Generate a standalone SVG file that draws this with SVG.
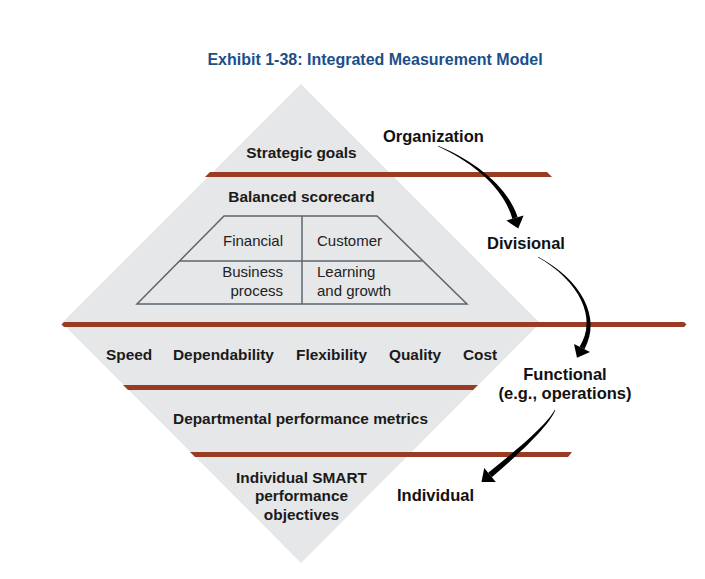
<svg xmlns="http://www.w3.org/2000/svg" width="705" height="579" viewBox="0 0 705 579">
<style>
.t{font-family:"Liberation Sans",Arial,Helvetica,sans-serif;fill:#1a1a1a}
.b{font-weight:bold;font-size:15.4px}
.l{font-weight:bold;font-size:16.5px;fill:#111}
.r{font-size:15px;fill:#222}
.bar{fill:#9a3b24}
.arw{fill:#000}
</style>
<rect width="705" height="579" fill="#fff"/>
<text class="t" x="375" y="64.5" text-anchor="middle" style="font-weight:bold;font-size:16px;fill:#1c4f8a">Exhibit 1-38: Integrated Measurement Model</text>

<g id="diamond">
<polygon points="301,84 540,323 301,563 62,323" fill="#e6e7e8"/>
</g>

<g id="bands">
<polygon class="bar" points="210,172 547,172 552,177 205,177"/>
<polygon class="bar" points="64,322 684,322 686.5,324.5 684,327 64,327 61.5,324.5"/>
<polygon class="bar" points="123,385 478,385 473,390 128,390"/>
<polygon class="bar" points="190,452 572,452 568,457 195,457"/>
</g>

<g id="strategic-goals">
<text class="t b" x="301.5" y="157.5" text-anchor="middle">Strategic goals</text>
</g>

<g id="balanced-scorecard">
<text class="t b" x="301.5" y="202" text-anchor="middle">Balanced scorecard</text>
<g fill="none" stroke="#5b6670" stroke-width="1.5">
<polygon points="224,216 377,216 467,304 137,304"/>
<line x1="180" y1="261" x2="422" y2="261"/>
<line x1="302" y1="216" x2="302" y2="304"/>
</g>
<text class="t r" x="283" y="246" text-anchor="end">Financial</text>
<text class="t r" x="317" y="246">Customer</text>
<text class="t r" x="283" y="277" text-anchor="end">Business</text>
<text class="t r" x="283" y="295.5" text-anchor="end">process</text>
<text class="t r" x="317" y="277">Learning</text>
<text class="t r" x="317" y="295.5">and growth</text>
</g>

<g id="competitive-priorities">
<text class="t b" x="106" y="360">Speed</text>
<text class="t b" x="173" y="360">Dependability</text>
<text class="t b" x="296" y="360">Flexibility</text>
<text class="t b" x="389" y="360">Quality</text>
<text class="t b" x="463" y="360">Cost</text>
</g>

<g id="departmental-metrics">
<text class="t b" x="300.5" y="424" text-anchor="middle">Departmental performance metrics</text>
</g>

<g id="individual-objectives">
<text class="t b" x="301.5" y="482.5" text-anchor="middle">Individual SMART</text>
<text class="t b" x="301.5" y="501" text-anchor="middle">performance</text>
<text class="t b" x="301.5" y="519.5" text-anchor="middle">objectives</text>
</g>

<g id="organization"><text class="t l" x="383" y="142">Organization</text></g>
<g id="divisional"><text class="t l" x="487" y="248.5">Divisional</text></g>
<g id="functional">
<text class="t l" x="565" y="380" text-anchor="middle">Functional</text>
<text class="t l" x="565" y="399" text-anchor="middle">(e.g., operations)</text>
</g>
<g id="individual"><text class="t l" x="397" y="501">Individual</text></g>

<g id="connectors">
<path class="arw" d="M437.9,146.3 C469.4,160.8 503.3,186 512.4,218.9 L517.6,217.1 C507,184 470.6,159.2 438.1,145.7 Z"/>
<polygon class="arw" points="506.4,220.6 523.6,215.4 518.2,228.6"/>
<path class="arw" d="M537.86,257.26 C579.3,280.7 598.04,318.4 579.6,346.8 L584.4,349.2 C602.3,317.6 580.7,279.3 538.14,256.74 Z"/>
<polygon class="arw" points="574,344 590,352 577,357.8"/>
<path class="arw" d="M554.73,409.87 C547.15,424.45 518.6,448.6 488.2,472.8 L491.8,477.2 C521.6,451.6 548.85,425.55 555.27,410.13 Z"/>
<polygon class="arw" points="484.2,468.1 495.8,481.9 481.5,482"/>
</g>
</svg>
